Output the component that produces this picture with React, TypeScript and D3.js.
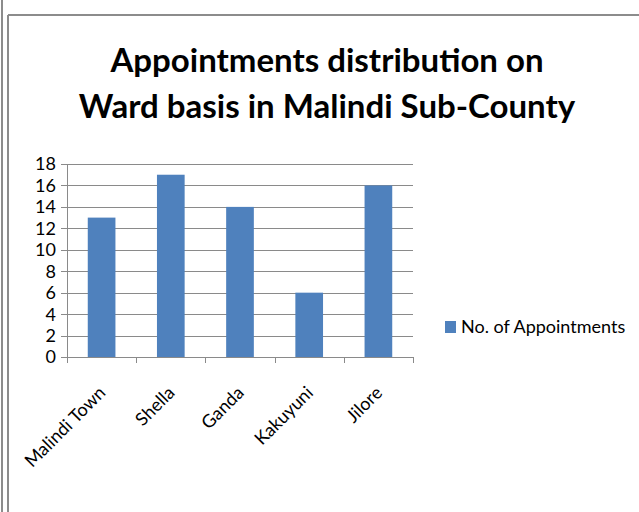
import React from "react";
import * as d3 from "d3";

const categories = ["Malindi Town", "Shella", "Ganda", "Kakuyuni", "Jilore"];
const appointments = [13, 17, 14, 6, 16];
const yTicks = [0, 2, 4, 6, 8, 10, 12, 14, 16, 18];
const seriesName = "No. of Appointments";
const titleLines = ["Appointments distribution on", "Ward basis in Malindi Sub-County"];

const W = 639;
const H = 512;
const FONT = "Lato, 'Liberation Sans', sans-serif";

export default function App() {
  const left = 67;
  const right = 413;
  const top = 164;
  const bottom = 357;

  const x = d3.scaleBand<string>().domain(categories).range([left, right]).paddingInner(0).paddingOuter(0);
  const y = d3.scaleLinear().domain([0, 18]).range([bottom, top]);
  const bw = x.bandwidth() * 0.4;

  return (
    <svg
      width={W}
      height={H}
      style={{ position: "absolute", left: 0, top: 0, background: "#fff" }}
      fontFamily={FONT}
    >
      <rect x={0} y={0} width={W} height={H} fill="#fff" />
      {/* borders */}
      <line x1={2} y1={0} x2={2} y2={H} stroke="#8c8c8c" strokeWidth={2} />
      <line x1={8} y1={15} x2={W} y2={15} stroke="#8c8c8c" strokeWidth={2} />
      <line x1={8} y1={15} x2={8} y2={H} stroke="#8c8c8c" strokeWidth={2} />

      {/* title */}
      {titleLines.map((t, i) => (
        <text
          key={i}
          x={327}
          y={72 + i * 46}
          textAnchor="middle"
          fontSize={33}
          fontWeight="bold"
          fill="#000"
        >
          {t}
        </text>
      ))}

      {/* gridlines */}
      {yTicks.map((v) => (
        <line
          key={"g" + v}
          x1={left - 6}
          x2={right}
          y1={Math.round(y(v)) + 0.5}
          y2={Math.round(y(v)) + 0.5}
          stroke="#8a8a8a"
          strokeWidth={1}
        />
      ))}
      {/* y axis */}
      <line x1={left + 0.5} x2={left + 0.5} y1={top} y2={bottom + 0.5} stroke="#8a8a8a" />
      {yTicks.map((v) => (
        <text
          key={"t" + v}
          x={56}
          y={y(v)}
          dy="0.36em"
          textAnchor="end"
          fontSize={18}
          fill="#000"
        >
          {v}
        </text>
      ))}

      {/* x ticks */}
      {[...categories.map((c) => x(c) as number), right].map((px, i) => (
        <line
          key={"xt" + i}
          x1={Math.round(px) + 0.5}
          x2={Math.round(px) + 0.5}
          y1={bottom}
          y2={bottom + 6}
          stroke="#8a8a8a"
        />
      ))}

      {/* bars */}
      {categories.map((c, i) => {
        const cx = (x(c) as number) + x.bandwidth() / 2;
        return (
          <rect
            key={c}
            x={cx - bw / 2}
            y={y(appointments[i])}
            width={bw}
            height={bottom - y(appointments[i])}
            fill="#4f81bd"
          />
        );
      })}

      {/* x labels */}
      {categories.map((c) => {
        const cx = (x(c) as number) + x.bandwidth() / 2 + 5;
        const cy = bottom + 37;
        return (
          <text
            key={"l" + c}
            x={cx}
            y={cy}
            textAnchor="end"
            fontSize={18}
            fill="#000"
            transform={`rotate(-45 ${cx} ${cy})`}
          >
            {c}
          </text>
        );
      })}

      {/* legend */}
      <rect x={445} y={321} width={11} height={12} fill="#4f81bd" />
      <text x={461} y={333} fontSize={18} fill="#000">
        {seriesName}
      </text>
    </svg>
  );
}
